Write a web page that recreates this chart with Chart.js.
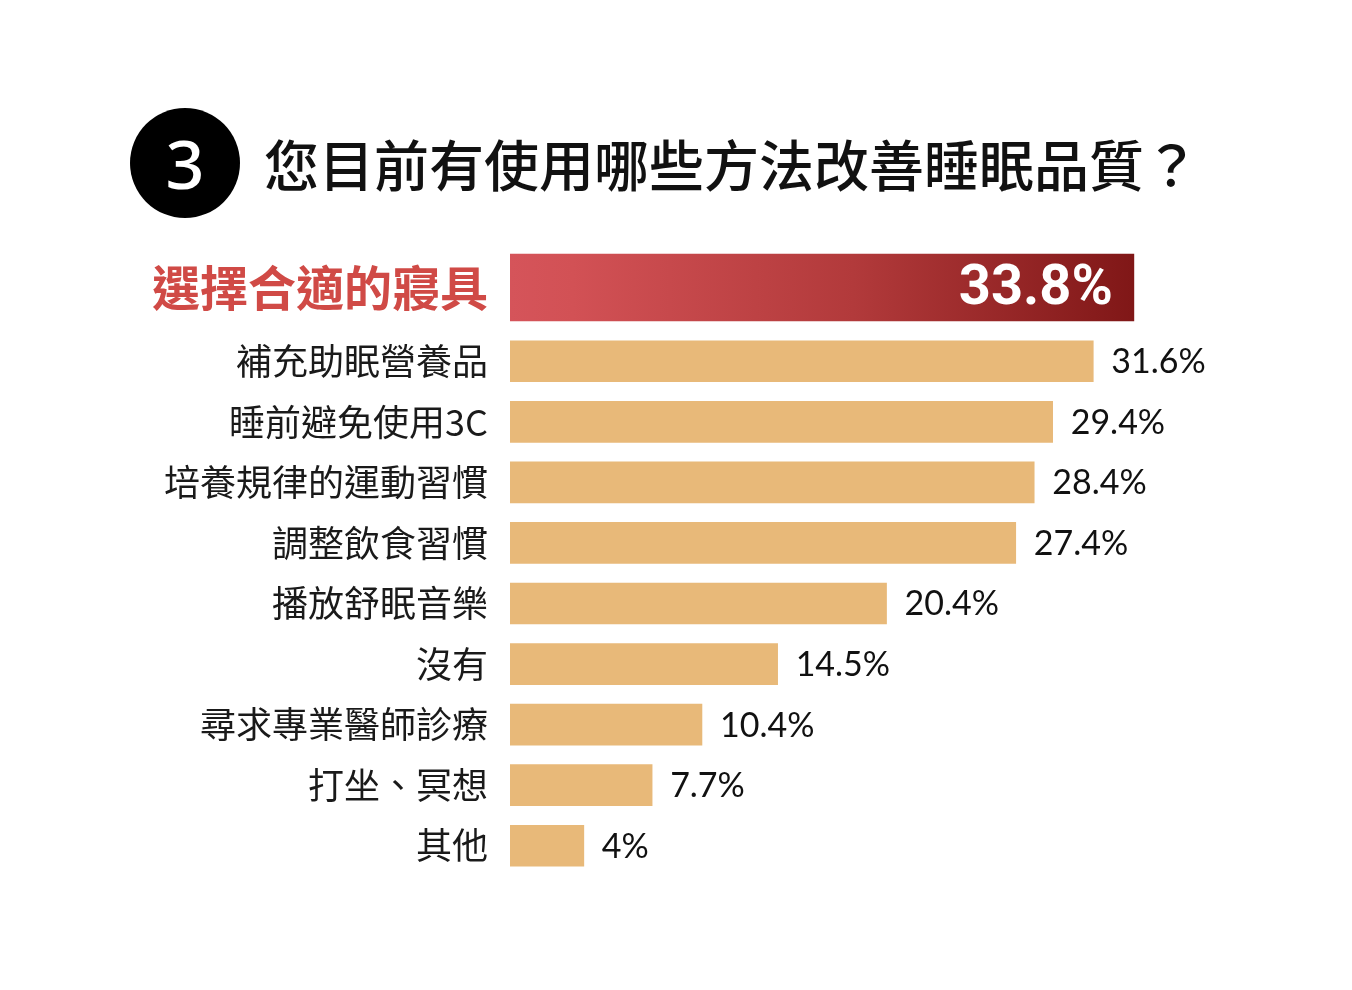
<!DOCTYPE html>
<html>
<head>
<meta charset="utf-8">
<script src="https://cdn.jsdelivr.net/npm/chart.js@4.4.1/dist/chart.umd.min.js"></script>
<style>
    body {
        margin: 0;
        background: #fff;
        width: 1352px;
        height: 990px;
        position: relative;
        overflow: hidden;
        font-family: "Noto Sans CJK TC", sans-serif;
    }
    #badge {
        position: absolute;
        left: 130px;
        top: 108px;
        width: 110px;
        height: 110px;
        border-radius: 50%;
        background: #000;
        color: #fff;
        font-family: "Noto Sans", sans-serif;
        font-weight: 500;
        font-size: 68px;
        line-height: 110px;
        text-align: center;
    }
    #title {
        position: absolute;
        left: 264px;
        top: 132px;
        font-size: 55px;
        line-height: 60px;
        font-weight: 500;
        color: #111;
        white-space: nowrap;
    }
    .box {
        position: absolute;
        left: 0;
        width: 1352px;
    }
</style>
</head>
<body>
<div id="badge">3</div>
<div id="title">您目前有使用哪些方法改善睡眠品質？</div>
<div class="box" style="top:244px;height:87px"><canvas id="topChart"></canvas></div>
<div class="box" style="top:331px;height:545px"><canvas id="restChart"></canvas></div>

<script>
// highlighted answer
const topCategory = ['選擇合適的寢具'];
const topValue = [33.8];
const topLabel = ['33.8%'];

// the other answers
const categories = ['補充助眠營養品', '睡前避免使用3C', '培養規律的運動習慣', '調整飲食習慣',
    '播放舒眠音樂', '沒有', '尋求專業醫師診療', '打坐、冥想', '其他'];
const values = [31.6, 29.4, 28.4, 27.4, 20.4, 14.5, 10.4, 7.7, 4];
const valueLabels = ['31.6%', '29.4%', '28.4%', '27.4%', '20.4%', '14.5%', '10.4%', '7.7%', '4%'];

const X_MAX = 42.8;

// writes the percentage next to (or inside) each bar
const valueLabelPlugin = {
    id: 'valueLabels',
    afterDatasetsDraw(chart, args, opts) {
        const ctx = chart.ctx;
        const meta = chart.getDatasetMeta(0);
        ctx.save();
        ctx.font = opts.font;
        ctx.fillStyle = opts.color;
        ctx.textBaseline = 'middle';
        ctx.textAlign = opts.inside ? 'right' : 'left';
        meta.data.forEach((bar, i) => {
            const x = opts.inside ? bar.x - opts.offset : bar.x + opts.offset;
            ctx.fillText(opts.labels[i], x, bar.y + opts.dy);
        });
        ctx.restore();
    }
};

function baseOptions(tickFont, tickColor, labelOpts) {
    return {
        indexAxis: 'y',
        responsive: true,
        maintainAspectRatio: false,
        animation: false,
        layout: {padding: {left: 0, right: 52, top: 0, bottom: 0}},
        scales: {
            x: {min: 0, max: X_MAX, display: false},
            y: {
                grid: {display: false, drawTicks: false},
                border: {display: false},
                ticks: {font: tickFont, color: tickColor, padding: 22},
                afterFit: scale => {
                    // fixed label column, and no extra room above/below the bars
                    scale.width = 510;
                    scale.paddingTop = 0;
                    scale.paddingBottom = 0;
                }
            }
        },
        plugins: {
            legend: {display: false},
            tooltip: {enabled: false},
            valueLabels: labelOpts
        }
    };
}

function redGradient(context) {
    const chart = context.chart;
    if (!chart.chartArea) return '#b83a3c';
    const xScale = chart.scales.x;
    const x0 = xScale.getPixelForValue(0);
    const x1 = xScale.getPixelForValue(topValue[0]);
    const g = chart.ctx.createLinearGradient(x0, 0, x1, 0);
    g.addColorStop(0, '#d5545a');
    g.addColorStop(0.1, '#d25155');
    g.addColorStop(0.55, '#b23a3b');
    g.addColorStop(1, '#801717');
    return g;
}

new Chart(document.getElementById('topChart'), {
    type: 'bar',
    data: {
        labels: topCategory,
        datasets: [{
            data: topValue,
            backgroundColor: redGradient,
            barThickness: 67
        }]
    },
    options: baseOptions(
        {family: '"Noto Sans CJK TC"', size: 48, weight: 'bold'},
        '#d04a46',
        {labels: topLabel, font: 'bold 56px Roboto, "Noto Sans", sans-serif', color: '#fff', inside: true, offset: 21, dy: 2}
    ),
    plugins: [valueLabelPlugin]
});

new Chart(document.getElementById('restChart'), {
    type: 'bar',
    data: {
        labels: categories,
        datasets: [{
            data: values,
            backgroundColor: '#e8b979',
            barThickness: 41
        }]
    },
    options: baseOptions(
        {family: '"Noto Sans CJK TC"', size: 36, weight: 'normal'},
        '#1a1a1a',
        {labels: valueLabels, font: '34px Lato, "Noto Sans", sans-serif', color: '#111', inside: false, offset: 18, dy: 1}
    ),
    plugins: [valueLabelPlugin]
});
</script>
</body>
</html>
